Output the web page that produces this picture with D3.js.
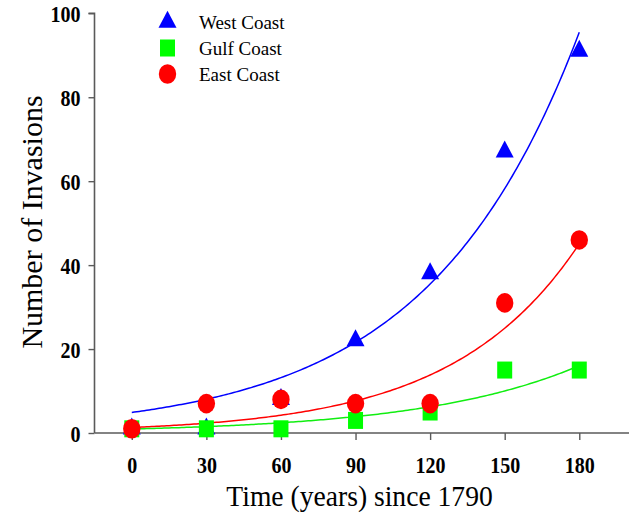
<!DOCTYPE html>
<html>
<head>
<meta charset="utf-8">
<script src="https://cdn.jsdelivr.net/npm/d3@7/dist/d3.min.js"></script>
<style>
  html, body { margin: 0; padding: 0; background: #fff; }
  svg { display: block; }
  text { font-family: "Liberation Serif", "Times New Roman", serif; fill: #000; }
</style>
</head>
<body>
<svg id="chart" width="629" height="515"></svg>
<script>
// ---- data ----
const years = [0, 30, 60, 90, 120, 150, 180];
const xTicks = [0, 30, 60, 90, 120, 150, 180];
const yTicks = [0, 20, 40, 60, 80, 100];
const westCoast = [1, 1, 8, 22, 38, 67, 91];
const gulfCoast = [1, 1, 1, 3, 5, 15, 15];
const eastCoast = [1, 7, 8, 7, 7, 31, 46];
// exponential fits y = a * exp(b * x), coefficients
const westFit = [4.9, 0.0165];
const gulfFit = [0.95, 0.0157];
const eastFit = [1.3, 0.0197];
const seriesNames = ["West Coast", "Gulf Coast", "East Coast"];
const xTitle = "Time (years) since 1790";
const yTitle = "Number of Invasions";

const svg = d3.select("#chart");
const x = d3.scaleLinear().domain([-15, 200]).range([94.5, 629]);
const y = d3.scaleLinear().domain([0, 100]).range([433, 13.3]);
const axisColor = "#5a5a5a";
const sx = 0.87; // horizontal squeeze seen in the reference

// axes
const yAxis = svg.append("g").attr("transform", `translate(${x(-15)},0)`)
  .call(d3.axisLeft(y).tickValues(yTicks).tickSize(6).tickPadding(8).tickFormat(d3.format("d")));
const xAxis = svg.append("g").attr("transform", `translate(0,${y(0)})`)
  .call(d3.axisBottom(x).tickValues(xTicks).tickSize(7).tickPadding(17).tickFormat(d3.format("d")));
[yAxis, xAxis].forEach(g => {
  g.select(".domain").attr("stroke", axisColor).attr("stroke-width", 1.6);
  g.selectAll(".tick line").attr("stroke", axisColor).attr("stroke-width", 1.4);
  g.selectAll(".tick text").attr("font-family", "Liberation Serif").attr("font-weight", "bold")
    .attr("font-size", 23).attr("fill", "#000");
});
yAxis.select(".domain").attr("d", `M-6,${y(100)}H0V${y(0)}`);
xAxis.select(".domain").attr("d", `M${x(-15)},0H${x(200)}`);
yAxis.selectAll(".tick text").attr("dy", "0.35em")
  .attr("transform", `scale(${sx},1)`)
  .attr("x", -14 / sx);
xAxis.selectAll(".tick text").attr("dy", "0.71em")
  .attr("transform", `scale(${sx},1)`);

// axis titles
svg.append("text").attr("transform", `translate(${x(90) + 4},506) scale(0.92,1)`)
  .attr("text-anchor", "middle").attr("font-size", 30).text(xTitle);
svg.append("text").attr("transform", `translate(42,222) rotate(-90) scale(1,0.95)`)
  .attr("text-anchor", "middle").attr("font-size", 30).text(yTitle);

// fit curves
const fitPts = d3.range(0, 180.001, 1);
const line = d3.line().x(d => x(d[0])).y(d => y(d[1]));
const fits = [[westFit, "#0000ff"], [eastFit, "#ff0000"], [gulfFit, "#11ee11"]];
fits.forEach(([f, c]) => {
  svg.append("path")
    .datum(fitPts.map(t => [t, f[0] * Math.exp(f[1] * t)]))
    .attr("d", line).attr("fill", "none").attr("stroke", c).attr("stroke-width", 1.5);
});

// marker shapes
function tri(g, cx, cy) {
  // centroid-centered triangle, 18 wide, 17 tall
  g.append("path").attr("d", `M${cx},${cy - 11.3}L${cx + 9},${cy + 5.7}L${cx - 9},${cy + 5.7}Z`)
    .attr("fill", "#0000ff");
}
function sq(g, cx, cy) {
  g.append("rect").attr("x", cx - 7.5).attr("y", cy - 8.5).attr("width", 15).attr("height", 17)
    .attr("fill", "#00ff00");
}
function circ(g, cx, cy) {
  g.append("ellipse").attr("cx", cx).attr("cy", cy).attr("rx", 8.7).attr("ry", 9.8)
    .attr("fill", "#ff0000");
}

const marks = svg.append("g");
years.forEach((t, i) => tri(marks, x(t), y(westCoast[i])));
years.forEach((t, i) => sq(marks, x(t), y(gulfCoast[i])));
years.forEach((t, i) => circ(marks, x(t), y(eastCoast[i])));

// legend
const leg = svg.append("g");
const legX = 167.5, legTextX = 199;
const legY = [22, 48, 74];
tri(leg, legX, legY[0]);
sq(leg, legX, legY[1]);
circ(leg, legX, legY[2]);
seriesNames.forEach((n, i) => {
  leg.append("text").attr("transform", `translate(${legTextX},${legY[i] + 6.5})`)
    .attr("font-size", 19).text(n);
});
</script>
</body>
</html>
